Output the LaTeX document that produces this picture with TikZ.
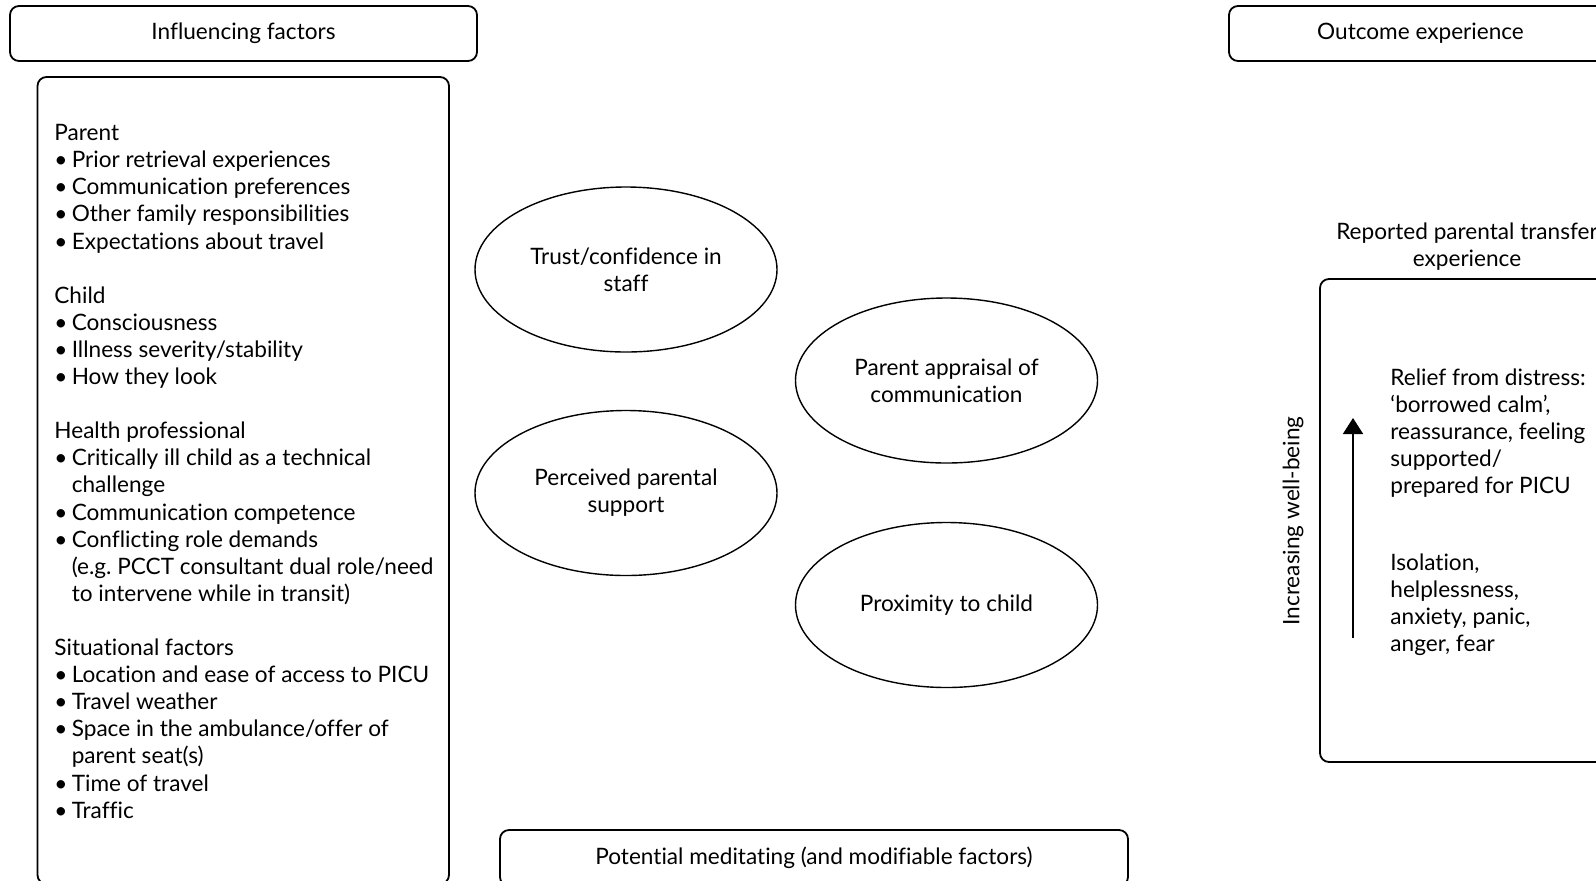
\documentclass[tikz,border=0pt]{standalone}
\usepackage{fontspec}
\setmainfont{Lato}[Ligatures={NoCommon}]
\usetikzlibrary{shapes.geometric,arrows.meta}
\frenchspacing

\newcommand{\fs}{\fontsize{11.3pt}{13.55pt}\selectfont}
\newcommand{\bul}{\makebox[8.7pt][l]{•}}
\newcommand{\ind}{\hspace*{8.7pt}}

\begin{document}
\begin{tikzpicture}[x=0.5pt,y=-0.5pt,
  font=\fs,
  hdr/.style={draw, line width=0.9pt, rounded corners=4.5pt, inner sep=0pt, minimum height=27.5pt},
  panel/.style={draw, line width=0.9pt, rounded corners=4.5pt, inner sep=0pt},
  ovl/.style={draw, ellipse, line width=0.7pt, minimum width=151pt, minimum height=82.5pt,
              inner sep=0pt, align=center},
  txt/.style={inner sep=0pt, align=left, anchor=north west},
  upar/.style={line width=0.9pt, -{Triangle[length=8pt, width=10pt]}}]

\useasboundingbox (0,0) rectangle (1596,880);
\clip (0,0) rectangle (1596,880);

% column headings
\node[hdr, minimum width=233.5pt] (inf) at (243.5,33.5) {Influencing factors};
\node[hdr, minimum width=191.5pt] (out) at (1420.5,33.5) {Outcome experience};
\node[hdr, minimum width=314pt, minimum height=28pt] (pot) at (814,858) {Potential meditating (and modifiable factors)};

% influencing factors panel
\node[panel, minimum width=205.75pt, minimum height=403.5pt] (fbox) at (243.25,480.5) {};
\node[txt] (flist) at (54,124) {Parent\\
\bul Prior retrieval experiences\\
\bul Communication preferences\\
\bul Other family responsibilities\\
\bul Expectations about travel\\[13.55pt]
Child\\
\bul Consciousness\\
\bul Illness severity/stability\\
\bul How they look\\[13.55pt]
Health professional\\
\bul Critically ill child as a technical\\
\ind challenge\\
\bul Communication competence\\
\bul Conflicting role demands\\
\ind (e.g. PCCT consultant dual role/need\\
\ind to intervene while in transit)\\[13.55pt]
Situational factors\\
\bul Location and ease of access to PICU\\
\bul Travel weather\\
\bul Space in the ambulance/offer of\\
\ind parent seat(s)\\
\bul Time of travel\\
\bul Traffic};

% mediating factors
\node[ovl] (trust) at (626,269.5) {Trust/confidence in\\staff};
\node[ovl] (appr) at (946.5,380.5) {Parent appraisal of\\communication};
\node[ovl] (supp) at (626,493) {Perceived parental\\support};
\node[ovl] (prox) at (946.5,605) {Proximity to child};

% outcome panel
\node[inner sep=0pt, align=center] (rep) at (1467,247) {Reported parental transfer\\experience};
\node[panel, minimum width=147pt, minimum height=241.5pt] (obox) at (1467,520.5) {};
\node[txt] (relief) at (1390,368) {Relief from distress:\\‘borrowed calm’,\\reassurance, feeling\\supported/\\prepared for PICU};
\node[txt] (iso) at (1390,553) {Isolation,\\helplessness,\\anxiety, panic,\\anger, fear};
\node[inner sep=0pt, rotate=90] (well) at (1293,521) {Increasing well-being};

\coordinate (arrlo) at (1353,638);
\coordinate (arrhi) at (1353,418);
\draw[upar] (arrlo) -- (arrhi);

\end{tikzpicture}
\end{document}
